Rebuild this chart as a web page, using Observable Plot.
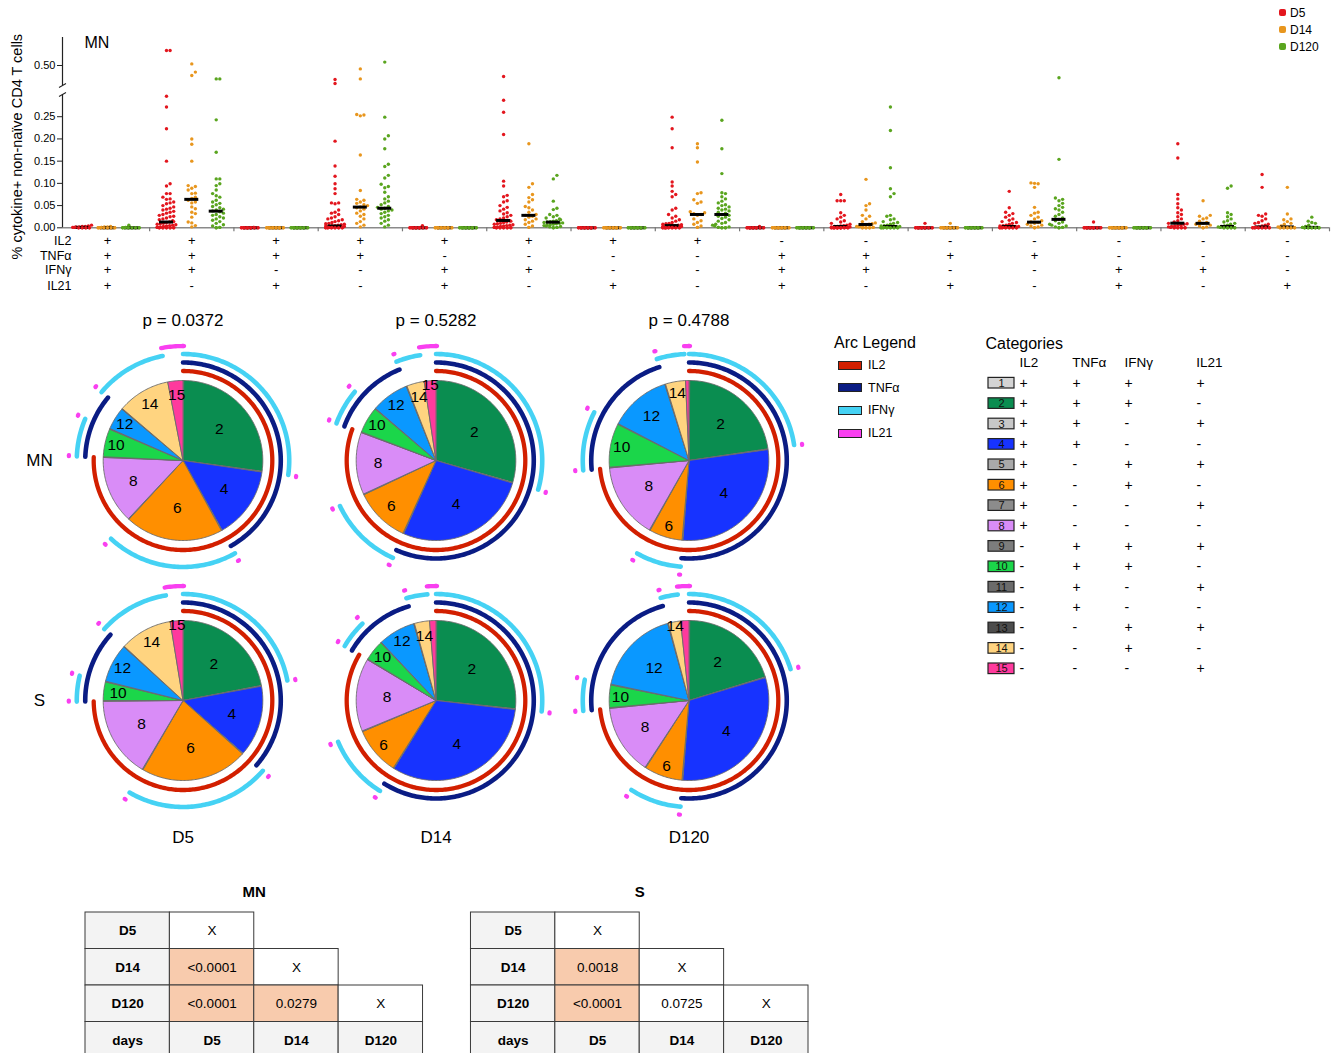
<!DOCTYPE html>
<html><head><meta charset="utf-8">
<script src="https://cdn.jsdelivr.net/npm/d3@7"></script>
<script src="https://cdn.jsdelivr.net/npm/@observablehq/plot@0.6"></script>
<style>
body{margin:0;background:#fff;font-family:Arial,"Liberation Sans",Helvetica,sans-serif;}
#root{position:relative;width:1341px;height:1053px;overflow:hidden;background:#fff;color:#000;}
.abs{position:absolute;}
.abs svg{display:block;overflow:visible;}
</style></head><body><div id="root"></div>
<script>
const FONT = 'Arial, "Liberation Sans", Helvetica, sans-serif';

// ---------------- data ----------------
const days = ["D5", "D14", "D120"];
const dayColors = ["#e3161e", "#e8961e", "#5aa51f"];
const cytokines = ["IL2", "TNFα", "IFNγ", "IL21"];
const categories = [1, 2, 3, 4, 5, 6, 7, 8, 9, 10, 11, 12, 13, 14, 15];
const catPattern = [
  [1,1,1,1],[1,1,1,0],[1,1,0,1],[1,1,0,0],[1,0,1,1],[1,0,1,0],[1,0,0,1],[1,0,0,0],
  [0,1,1,1],[0,1,1,0],[0,1,0,1],[0,1,0,0],[0,0,1,1],[0,0,1,0],[0,0,0,1]
];
const catColors = ["#d4d4d4","#0a8d50","#c8c8c8","#1733ff","#a9a9a9","#ff8f00","#8c8c8c","#d98cf7",
  "#7d7d7d","#1bd64a","#6b6b6b","#0a98ff","#4d4d4d","#ffd480","#ff3a9d"];
const arcColors = ["#d21f00", "#0a1c84", "#45d2f4", "#f93ff0"];

// scatter values (% cytokine+ non-naive CD4 T cells), one list per category
const valsD5 = [
  [0.006,0.004,0.003,0.003,0.002,0.002,0.001,0.001,0,0,0,0],
  [0.575,0.575,0.296,0.272,0.223,0.150,0.099,0.094,0.077,0.077,0.069,0.065,0.064,0.058,0.056,0.054,0.050,0.047,0.044,0.042,0.040,0.037,0.035,0.033,0.030,0.028,0.026,0.025,0.022,0.020,0.018,0.016,0.014,0.013,0.012,0.010,0.009,0.008,0.007,0.006,0.005,0.004,0.003,0.002,0.001,0,0,0,0,0],
  [0.001,0,0,0,0,0,0,0,0,0],
  [0.43,0.41,0.195,0.139,0.116,0.099,0.088,0.077,0.056,0.056,0.054,0.04,0.035,0.033,0.03,0.025,0.022,0.02,0.018,0.016,0.014,0.012,0.01,0.009,0.008,0.007,0.006,0.005,0.005,0.004,0.004,0.003,0.003,0.002,0.002,0.001,0.001,0,0,0,0,0,0],
  [0.005,0,0,0,0,0,0,0,0,0],
  [0.445,0.287,0.26,0.21,0.105,0.094,0.073,0.07,0.061,0.058,0.05,0.046,0.042,0.038,0.034,0.031,0.028,0.025,0.022,0.02,0.018,0.016,0.015,0.013,0.012,0.01,0.009,0.008,0.007,0.006,0.005,0.004,0.003,0.002,0.001,0,0,0,0,0],
  [0,0,0,0,0,0,0,0,0,0],
  [0.249,0.223,0.18,0.103,0.094,0.082,0.075,0.07,0.044,0.04,0.03,0.026,0.022,0.018,0.015,0.012,0.01,0.009,0.008,0.007,0.006,0.005,0.005,0.004,0.004,0.003,0.003,0.002,0.002,0.001,0.001,0,0,0,0,0,0,0],
  [0.003,0,0,0,0,0,0,0,0,0],
  [0.075,0.061,0.061,0.061,0.034,0.028,0.024,0.02,0.016,0.013,0.01,0.008,0.006,0.005,0.004,0.003,0.003,0.002,0.002,0.001,0.001,0,0,0,0,0,0,0,0,0],
  [0.01,0,0,0,0,0,0,0,0,0],
  [0.082,0.045,0.035,0.032,0.028,0.024,0.02,0.017,0.014,0.012,0.01,0.008,0.006,0.005,0.004,0.003,0.003,0.002,0.002,0.001,0.001,0,0,0,0,0,0],
  [0.013,0,0,0,0,0,0,0,0,0],
  [0.189,0.157,0.075,0.065,0.054,0.045,0.04,0.034,0.03,0.025,0.02,0.016,0.013,0.01,0.009,0.008,0.006,0.005,0.004,0.003,0.002,0.001,0,0,0,0],
  [0.12,0.091,0.031,0.028,0.026,0.02,0.016,0.012,0.01,0.008,0.006,0.004,0.002,0.001,0,0,0,0,0,0]
];
const valsD14 = [
  [0.003,0.002,0.002,0.001,0,0,0,0,0,0],
  [0.508,0.467,0.45,0.2,0.188,0.15,0.095,0.093,0.089,0.085,0.078,0.077,0.069,0.066,0.062,0.058,0.056,0.047,0.043,0.035,0.032,0.024,0.013,0.011,0.005,0.002],
  [0,0,0,0,0,0,0,0,0,0],
  [0.483,0.433,0.255,0.254,0.252,0.164,0.084,0.064,0.062,0.058,0.055,0.052,0.05,0.047,0.045,0.042,0.038,0.033,0.03,0.026,0.02,0.014,0.01,0.006,0.002],
  [0,0,0,0,0,0,0,0,0,0],
  [0.189,0.099,0.091,0.075,0.068,0.063,0.058,0.048,0.045,0.04,0.035,0.03,0.028,0.026,0.024,0.02,0.018,0.015,0.012,0.008,0.004,0.001],
  [0,0,0,0,0,0,0,0,0,0],
  [0.189,0.18,0.148,0.079,0.077,0.063,0.058,0.055,0.036,0.034,0.032,0.03,0.028,0.02,0.016,0.012,0.008,0.004,0.001],
  [0,0,0,0,0,0,0,0,0,0],
  [0.109,0.054,0.05,0.04,0.028,0.026,0.02,0.014,0.011,0.009,0.008,0.007,0.005,0.004,0.003,0.002,0.001,0,0,0],
  [0.01,0,0,0,0,0,0,0,0,0],
  [0.101,0.1,0.099,0.091,0.046,0.035,0.033,0.028,0.024,0.02,0.016,0.013,0.012,0.01,0.008,0.006,0.004,0.002,0],
  [0,0,0,0,0,0,0,0,0,0],
  [0.061,0.028,0.026,0.022,0.02,0.015,0.012,0.01,0.008,0.006,0.004,0.002,0],
  [0.091,0.031,0.02,0.018,0.014,0.01,0.008,0.004,0.002,0,0,0,0,0]
];
const valsD120 = [
  [0.006,0.001,0,0,0,0,0,0],
  [0.433,0.433,0.243,0.17,0.11,0.11,0.099,0.095,0.085,0.077,0.072,0.069,0.062,0.058,0.055,0.052,0.048,0.045,0.042,0.04,0.038,0.036,0.033,0.03,0.028,0.025,0.022,0.02,0.017,0.014,0.01,0.007,0.004,0.001,0],
  [0,0,0,0,0,0,0,0,0,0],
  [0.517,0.249,0.207,0.2,0.178,0.143,0.138,0.118,0.112,0.098,0.093,0.09,0.08,0.07,0.065,0.06,0.056,0.052,0.048,0.046,0.044,0.042,0.04,0.038,0.035,0.032,0.028,0.025,0.022,0.018,0.015,0.01,0.006,0.002],
  [0,0,0,0,0,0,0,0,0,0],
  [0.118,0.11,0.06,0.044,0.041,0.03,0.028,0.025,0.022,0.02,0.018,0.016,0.015,0.014,0.013,0.012,0.011,0.01,0.009,0.008,0.007,0.006,0.005,0.004,0.003,0.002,0.001,0],
  [0,0,0,0,0,0,0,0,0,0],
  [0.242,0.178,0.122,0.079,0.077,0.07,0.065,0.06,0.056,0.052,0.05,0.047,0.044,0.042,0.04,0.038,0.035,0.033,0.03,0.028,0.026,0.024,0.021,0.018,0.015,0.012,0.01,0.008,0.006,0.004,0.002,0.001,0,0],
  [0,0,0,0,0,0,0,0,0,0],
  [0.272,0.219,0.135,0.088,0.077,0.07,0.028,0.026,0.02,0.018,0.014,0.012,0.01,0.008,0.006,0.005,0.004,0.003,0.003,0.002,0.002,0.001,0.001,0,0,0,0,0,0],
  [0,0,0,0,0,0,0,0,0,0],
  [0.4385,0.154,0.067,0.064,0.061,0.055,0.05,0.046,0.043,0.04,0.035,0.03,0.026,0.022,0.019,0.016,0.013,0.01,0.008,0.006,0.004,0.002,0.001,0],
  [0,0,0,0,0,0,0,0,0,0],
  [0.094,0.089,0.034,0.03,0.025,0.02,0.016,0.013,0.01,0.008,0.006,0.004,0.003,0.002,0.001,0,0,0,0],
  [0.024,0.015,0.012,0.01,0.006,0.003,0.001,0,0,0,0,0]
];
const mediansD5   = [0.001,0.013,0,0.004,0,0.0165,0,0.005,0,0.003,0,0.003,0,0.0104,0.002];
const mediansD14  = [0,0.064,0,0.0466,0,0.028,0,0.03,0,0.0075,0,0.0127,0,0.01,0.002];
const mediansD120 = [0,0.0375,0,0.044,0,0.0127,0,0.03,0,0.003,0,0.019,0,0.003,0.001];
const yTicks = [0, 0.05, 0.10, 0.15, 0.20, 0.25, 0.50];

// pie fractions, categories 1..15
const pieGroups = ["MN", "S"];
const pValues = ["0.0372", "0.5282", "0.4788"];
const pieMN_D5   = [0.0015,0.273,0.0015,0.147,0.0015,0.2006,0.0015,0.1375,0.0015,0.057,0.0015,0.046,0.0015,0.108,0.031];
const pieMN_D14  = [0.0015,0.296,0.0015,0.274,0.0015,0.113,0.0015,0.127,0.0015,0.054,0.0015,0.077,0.0015,0.036,0.024];
const pieMN_D120 = [0.0015,0.2275,0.0015,0.287,0.0015,0.068,0.0015,0.154,0.0015,0.089,0.0015,0.126,0.0015,0.041,0.007];
const pieS_D5    = [0.0015,0.221,0.0015,0.145,0.0015,0.22,0.0015,0.165,0.0015,0.038,0.0015,0.079,0.0015,0.107,0.026];
const pieS_D14   = [0.0015,0.268,0.0015,0.324,0.0015,0.0975,0.0015,0.149,0.0015,0.042,0.0015,0.076,0.0015,0.031,0.013];
const pieS_D120  = [0.0015,0.203,0.0015,0.312,0.0015,0.078,0.0015,0.143,0.0015,0.046,0.0015,0.176,0.0015,0.025,0.017];

// comparison tables
const tableNames = ["MN", "S"];
const tableRowLabels = ["D5", "D14", "D120"];
const pMN = [["X"], ["<0.0001", "X"], ["<0.0001", "0.0279", "X"]];
const pS  = [["X"], ["0.0018", "X"], ["<0.0001", "0.0725", "X"]];
const sigMN = [[0], [1, 0], [1, 1, 0]];
const sigS  = [[0], [1, 0], [1, 0, 0]];

// ---------------- helpers ----------------
const root = document.getElementById("root");
function place(node, left, top) {
  const d = document.createElement("div");
  d.className = "abs"; d.style.left = left + "px"; d.style.top = top + "px";
  d.appendChild(node); root.appendChild(d); return d;
}

// ---------------- scatter ----------------
const xDomain = [0.466, 15.5], xRange = [62, 1329];
// broken axis: value breakpoints -> pixel height above baseline
const yBreaks = [0, 0.30, 0.40, 0.64];
const yBreakPx = [0, 133.3, 142.3, 190.3];
const brk = d3.scaleLinear().domain(yBreaks).range(yBreakPx);
const pxPerUnit = (xRange[1] - xRange[0]) / (xDomain[1] - xDomain[0]);
const dayOffset = [-0.3, 0, 0.29];
const allVals = [valsD5, valsD14, valsD120];
const allMeds = [mediansD5, mediansD14, mediansD120];

function swarmOffsets(vals) {
  const r = 1.7, d = 2 * r + 0.2, maxOff = 10.5;
  const items = vals.map((v, i) => ({i, y: -brk(v)})).sort((a, b) => b.y - a.y);
  const placed = [], out = new Array(vals.length);
  let fb = 0;
  for (const it of items) {
    let found = null;
    for (let k = 0; ; k++) {
      const off = k === 0 ? 0 : (k % 2 ? 1 : -1) * Math.ceil(k / 2) * d;
      if (Math.abs(off) > maxOff) break;
      if (placed.every(p => Math.hypot(p.x - off, p.y - it.y) >= d)) { found = off; break; }
    }
    if (found === null) found = ((fb++ % 7) - 3) * 3.1;
    placed.push({x: found, y: it.y});
    out[it.i] = found;
  }
  return out;
}

const points = [], meds = [];
categories.forEach((c, gi) => {
  days.forEach((day, j) => {
    const vals = allVals[j][gi];
    const offs = swarmOffsets(vals);
    const xc = c + dayOffset[j];
    vals.forEach((v, i) => points.push({x: xc + offs[i] / pxPerUnit, v, yb: brk(v), day}));
    meds.push({x1: xc - 7 / pxPerUnit, x2: xc + 7 / pxPerUnit, yb: brk(allMeds[j][gi])});
  });
});
const boundaries = categories.map(c => c + 0.5);
const ySegments = [{a: brk(yBreaks[0]), b: brk(yBreaks[1])}, {a: brk(yBreaks[2]), b: brk(yBreaks[3])}];
// small slanted marks at the two ends of the axis break (y units are pixels)
const breakMarks = [brk(yBreaks[1]), brk(yBreaks[2])].map(y => ({x1: xDomain[0] - 3.5 / pxPerUnit, y1: y - 2, x2: xDomain[0] + 3.5 / pxPerUnit, y2: y + 2}));
const rowDy = [12.7, 27.7, 42.2, 57.7];

const scatter = Plot.plot({
  width: 1341, height: 300,
  marginLeft: 62, marginRight: 12, marginTop: 37, marginBottom: 72.7,
  style: {fontFamily: FONT, fontSize: "11px", background: "transparent", color: "#000"},
  x: {domain: xDomain, range: xRange, axis: null},
  y: {domain: [yBreakPx[0], yBreakPx[3]], axis: null},
  color: {domain: days, range: dayColors},
  marks: [
    Plot.ruleY([0], {x1: xDomain[0], x2: xDomain[1], stroke: "#8a8a8a", strokeWidth: 1.6}),
    Plot.axisX({ticks: boundaries, tickSize: 4, tickFormat: () => "", stroke: "#777", strokeWidth: 1.2, label: null}),
    Plot.ruleX(ySegments, {x: xDomain[0], y1: "a", y2: "b", stroke: "#222", strokeWidth: 1.2}),
    Plot.link(breakMarks, {x1: "x1", y1: "y1", x2: "x2", y2: "y2", stroke: "#222", strokeWidth: 1.1}),
    Plot.axisY({ticks: yTicks.map(brk), tickFormat: d => d3.format(".2f")(brk.invert(d)), tickSize: 5, tickPadding: 2, fontSize: 11, label: null, stroke: "#222"}),
    Plot.dot(points, {x: "x", y: "yb", r: 1.7, fill: "day", stroke: null}),
    Plot.ruleY(meds, {y: "yb", x1: "x1", x2: "x2", stroke: "#000", strokeWidth: 3}),
    Plot.dot(points.filter(d => d.v < 0.0015), {x: "x", y: "yb", r: 1.7, fill: "day", stroke: null}),
    Plot.text(["MN"], {frameAnchor: "top-left", dx: 22, dy: 5, fontSize: 16, textAnchor: "start", lineAnchor: "middle"}),
    Plot.text(["% cytokine+ non-naïve CD4 T cells"], {frameAnchor: "left", rotate: -90, dx: -45, dy: 14, fontSize: 14.5, textAnchor: "middle", lineAnchor: "middle"}),
    ...cytokines.map((cy, k) => Plot.text([cy], {frameAnchor: "bottom-left", dx: 9, dy: rowDy[k], textAnchor: "end", lineAnchor: "middle", fontSize: 12.5})),
    ...cytokines.map((cy, k) => Plot.text(categories, {x: d => d, text: d => catPattern[d - 1][k] ? "+" : "-", frameAnchor: "bottom", dy: rowDy[k], lineAnchor: "middle", fontSize: 13}))
  ]
});
place(scatter, 0, 0);

// day legend (top right)
{
  const lg = document.createElement("div");
  days.forEach((d, j) => {
    const row = document.createElement("div");
    row.style.cssText = "display:flex;align-items:center;height:17px;font-size:12px;";
    const sw = document.createElement("span");
    sw.style.cssText = `display:inline-block;width:7px;height:7px;border-radius:2px;background:${dayColors[j]};margin-right:4px;`;
    row.appendChild(sw); row.appendChild(document.createTextNode(d));
    lg.appendChild(row);
  });
  place(lg, 1279, 4);
}

// ---------------- pies ----------------
const pieFrac = {MN: [pieMN_D5, pieMN_D14, pieMN_D120], S: [pieS_D5, pieS_D14, pieS_D120]};
const arcRadii = [1.119, 1.225, 1.331, 1.431];
const arcWidths = [4.3, 4.6, 4.6, 4.3];
const pieGen = d3.pie().sort(null).value(d => d);
function sampleAngles(a0, a1) {
  const n = Math.max(1, Math.ceil((a1 - a0) / (Math.PI / 180)));
  return d3.range(n + 1).map(i => a0 + (a1 - a0) * i / n);
}
function labelRadius(f) {
  if (f < 0.028) return 0.95;
  if (f < 0.04) return 0.82;
  if (f >= 0.15) return 0.6;
  if (f <= 0.10) return 0.86;
  return 0.86 - (f - 0.10) / 0.05 * 0.26;
}
const slicePts = [], arcPts = [], pieLabels = [];
for (const g of pieGroups) days.forEach((day, j) => {
  const fr = pieFrac[g][j];
  const total = d3.sum(fr);
  const arcs = pieGen(fr);
  arcs.forEach((a, c) => {
    const id = `${g}-${day}-${c}`;
    const fill = catColors[c];
    slicePts.push({g, day, id, x: 0, y: 0, fill});
    for (const t of sampleAngles(a.startAngle, a.endAngle)) slicePts.push({g, day, id, x: Math.sin(t), y: Math.cos(t), fill});
    slicePts.push({g, day, id, x: 0, y: 0, fill});
    const f = a.value / total;
    if (f >= 0.02) {
      const mid = (a.startAngle + a.endAngle) / 2, rl = labelRadius(f);
      pieLabels.push({g, day, x: rl * Math.sin(mid), y: rl * Math.cos(mid), text: String(categories[c])});
    }
  });
  cytokines.forEach((cy, k) => {
    let run = null, n = 0;
    const flush = () => {
      if (!run) return;
      const id = `${g}-${day}-${k}-${n++}`;
      for (const t of sampleAngles(run.a0, run.a1)) arcPts.push({g, day, k, id, x: arcRadii[k] * Math.sin(t), y: arcRadii[k] * Math.cos(t)});
      run = null;
    };
    arcs.forEach((a, c) => {
      if (catPattern[c][k] && a.value > 0) {
        if (run) run.a1 = a.endAngle; else run = {a0: a.startAngle, a1: a.endAngle};
      } else flush();
    });
    flush();
  });
});

const pies = Plot.plot({
  width: 816, height: 580,
  marginLeft: 55, marginRight: 0, marginTop: 40, marginBottom: 60,
  style: {fontFamily: FONT, fontSize: "17px", background: "transparent", color: "#000"},
  fx: {domain: days, padding: 0},
  fy: {domain: pieGroups, padding: 0},
  x: {domain: [-1.585, 1.585], axis: null},
  y: {domain: [-1.5, 1.5], axis: null},
  color: {type: "identity"},
  marks: [
    Plot.line(slicePts, {x: "x", y: "y", z: "id", fill: "fill", stroke: "#6b6b6b", strokeWidth: 0.9, strokeLinejoin: "round", fx: "day", fy: "g"}),
    ...cytokines.map((cy, k) => Plot.line(arcPts.filter(d => d.k === k), {x: "x", y: "y", z: "id", stroke: arcColors[k], strokeWidth: arcWidths[k], fx: "day", fy: "g"})),
    Plot.text(pieLabels, {x: "x", y: "y", text: "text", fx: "day", fy: "g", fontSize: 15.5}),
    Plot.axisFx({anchor: "top", tickSize: 0, tickPadding: 15, label: null, fontSize: 17, tickFormat: d => "p = " + pValues[days.indexOf(d)]}),
    Plot.axisFx({anchor: "bottom", tickSize: 0, tickPadding: 10, label: null, fontSize: 17}),
    Plot.axisFy({anchor: "left", tickSize: 0, tickPadding: 17, textAnchor: "middle", label: null, fontSize: 17})
  ]
});
place(pies, 0, 300);

// ---------------- arc legend ----------------
{
  const box = document.createElement("div");
  box.style.cssText = "position:relative;width:140px;height:120px;";
  const t = document.createElement("div");
  t.textContent = "Arc Legend";
  t.style.cssText = "position:absolute;left:0;top:0;font-size:16px;line-height:20px;";
  box.appendChild(t);
  cytokines.forEach((cy, k) => {
    const sw = document.createElement("div");
    sw.style.cssText = `position:absolute;left:4px;top:${27.5 + k * 22.7}px;width:24px;height:9px;box-sizing:border-box;border:1px solid #222;background:${arcColors[k]};`;
    const lb = document.createElement("div");
    lb.textContent = cy;
    lb.style.cssText = `position:absolute;left:34px;top:${24 + k * 22.7}px;font-size:12.5px;line-height:16px;`;
    box.appendChild(sw); box.appendChild(lb);
  });
  place(box, 834, 333);
}

// ---------------- categories table ----------------
const catDx = [39, 92, 144, 216];
const headerDx = [39, 91.7, 144, 215.7];
const catData = categories.map(c => ({cat: c}));
const catPlot = Plot.plot({
  width: 250, height: 370,
  marginLeft: 0, marginRight: 0, marginTop: 0, marginBottom: 0,
  style: {fontFamily: FONT, fontSize: "13px", background: "transparent", color: "#000"},
  x: {type: "band", domain: ["sw"], range: [8, 34], padding: 0, round: false, axis: null},
  y: {type: "band", domain: categories, range: [52.5, 358.5], paddingInner: 0.48, paddingOuter: 0.24, round: false, axis: null},
  color: {type: "identity"},
  marks: [
    Plot.text(["Categories"], {frameAnchor: "top-left", dx: 5, dy: 23, fontSize: 16, textAnchor: "start", lineAnchor: "middle"}),
    ...cytokines.map((cy, k) => Plot.text([cy], {frameAnchor: "top-left", dx: headerDx[k], dy: 42, fontSize: 13.5, textAnchor: "start", lineAnchor: "middle"})),
    Plot.cell(catData, {x: () => "sw", y: "cat", fill: d => catColors[d.cat - 1], stroke: "#222", strokeWidth: 1.2}),
    Plot.text(catData, {x: () => "sw", y: "cat", text: "cat", fontSize: 11, fill: "#111"}),
    ...cytokines.map((cy, k) => Plot.text(catData, {y: "cat", text: d => catPattern[d.cat - 1][k] ? "+" : "-", frameAnchor: "left", dx: catDx[k], fontSize: 14, lineAnchor: "middle"}))
  ]
});
place(catPlot, 980, 320);

// ---------------- comparison tables ----------------
const tableCols = ["h", ...days];
const tableRows = [...tableRowLabels, "days"];
const cells = [];
tableNames.forEach(t => {
  const p = t === "MN" ? pMN : pS, s = t === "MN" ? sigMN : sigS;
  tableRowLabels.forEach((rl, r) => {
    cells.push({t, row: rl, col: "h", text: rl, kind: "head"});
    p[r].forEach((txt, c) => cells.push({t, row: rl, col: days[c], text: txt, kind: s[r][c] ? "sig" : "plain"}));
  });
  cells.push({t, row: "days", col: "h", text: "days", kind: "head"});
  days.forEach(d => cells.push({t, row: "days", col: d, text: d, kind: "head"}));
});
const kindFill = {head: "#f3f3f3", sig: "#f8cbad", plain: "#ffffff"};
const tablePlot = Plot.plot({
  width: 830, height: 188,
  marginLeft: 85, marginRight: 22, marginTop: 42, marginBottom: 0,
  style: {fontFamily: FONT, fontSize: "13px", background: "transparent", color: "#000"},
  fx: {domain: tableNames, paddingInner: 48 / 386, paddingOuter: 0, round: false},
  x: {type: "band", domain: tableCols, padding: 0, round: false, axis: null},
  y: {type: "band", domain: tableRows, padding: 0, round: false, axis: null},
  color: {type: "identity"},
  marks: [
    Plot.cell(cells, {x: "col", y: "row", fx: "t", fill: d => kindFill[d.kind], stroke: "#3a3a3a", strokeWidth: 1}),
    Plot.text(cells.filter(d => d.kind === "head"), {x: "col", y: "row", fx: "t", text: "text", fontWeight: "bold", fontSize: 13.5}),
    Plot.text(cells.filter(d => d.kind !== "head"), {x: "col", y: "row", fx: "t", text: "text", fontSize: 13.5}),
    Plot.axisFx({anchor: "top", tickSize: 0, tickPadding: 16, label: null, fontSize: 15, fontWeight: "bold"})
  ]
});
place(tablePlot, 0, 870);
</script></body></html>
